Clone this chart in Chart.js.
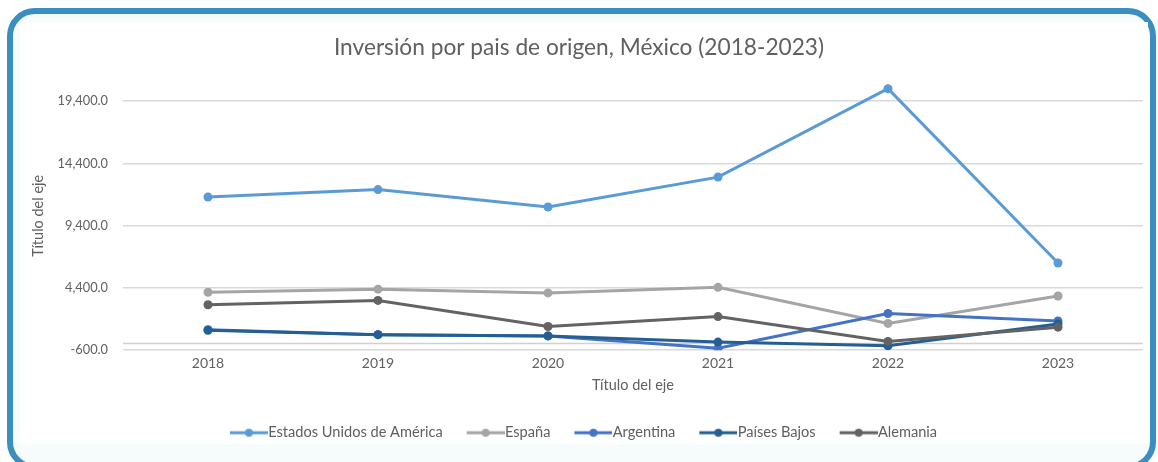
<!DOCTYPE html>
<html lang="es">
<head>
<meta charset="utf-8">
<title>Inversión por pais de origen, México (2018-2023)</title>
<script src="https://cdn.jsdelivr.net/npm/chart.js@4.4.1/dist/chart.umd.min.js"></script>
<style>
  html, body { margin: 0; padding: 0; background: #ffffff; }
  body { width: 1158px; height: 462px; position: relative; overflow: hidden; }
  .marco {
    position: absolute; left: 7px; top: 8px; width: 1149px; height: 462px;
    box-sizing: border-box; border: 6px solid #3b8ec0; border-radius: 28px;
    background: #f6fbfc;
  }
  .fondo {
    position: absolute; left: 20px; top: 22px; width: 1128px; height: 422px;
    background: #ffffff;
  }
  #chart { position: absolute; left: 0; top: 0; }
</style>
</head>
<body>
<div class="marco"></div>
<div class="fondo"></div>
<canvas id="chart" width="1158" height="462"></canvas>
<script>
// años en el eje X
const anios = ['2018', '2019', '2020', '2021', '2022', '2023']

// inversión por país (valores del eje Y)
const estadosUnidos = [11700, 12300, 10900, 13300, 20400, 6400]
const espana = [4050, 4300, 4000, 4450, 1550, 3750]
const argentina = [1050, 650, 550, -450, 2350, 1750]
const paisesBajos = [1000, 650, 550, 50, -250, 1500]
const alemania = [3050, 3400, 1300, 2100, 100, 1250]

// marcas del eje Y
const marcasY = [-600, 4400, 9400, 14400, 19400]

const nombres = ['Estados Unidos de América', 'España', 'Argentina', 'Países Bajos', 'Alemania']
const colores = ['#5b9bd5', '#a5a5a5', '#4472c4', '#255e91', '#636363']
const series = [estadosUnidos, espana, argentina, paisesBajos, alemania]

const fuente = 'Lato, "Open Sans", sans-serif'
const gris = '#606060'

// icono de la leyenda: línea con punto al centro, pegada al texto
function iconoLeyenda (color) {
  let c = document.createElement('canvas')
  c.width = 54
  c.height = 10
  let ctx = c.getContext('2d')
  ctx.strokeStyle = color
  ctx.lineWidth = 3
  ctx.beginPath()
  ctx.moveTo(16, 5)
  ctx.lineTo(54, 5)
  ctx.stroke()
  ctx.fillStyle = color
  ctx.beginPath()
  ctx.arc(35, 5, 4, 0, Math.PI * 2)
  ctx.fill()
  return c
}

// línea del eje horizontal en el valor 0
const lineaCero = {
  id: 'lineaCero',
  beforeDatasetsDraw (chart) {
    let { ctx, chartArea, scales } = chart
    let y = Math.round(scales.y.getPixelForValue(0)) + 0.5
    ctx.save()
    ctx.strokeStyle = '#d0d0d0'
    ctx.lineWidth = 1.5
    ctx.beginPath()
    ctx.moveTo(chartArea.left, y)
    ctx.lineTo(chartArea.right, y)
    ctx.stroke()
    ctx.restore()
  }
}

let grafico = new Chart('chart', {
  type: 'line',
  data: {
    labels: anios,
    datasets: series.map((datos, i) => ({
      label: nombres[i],
      data: datos,
      borderColor: colores[i],
      backgroundColor: colores[i],
      borderWidth: 3,
      pointRadius: 4.5,
      pointHoverRadius: 4.5,
      pointBorderWidth: 0,
      tension: 0,
      order: series.length - i
    }))
  },
  options: {
    responsive: false,
    animation: false,
    layout: { padding: { top: 34, left: 15, right: 15, bottom: 12 } },
    plugins: {
      title: {
        display: true,
        text: 'Inversión por pais de origen, México (2018-2023)',
        color: gris,
        font: { family: fuente, size: 22.7, weight: 'normal' },
        padding: { top: 0, bottom: 20 }
      },
      legend: {
        position: 'bottom',
        labels: {
          usePointStyle: true,
          pointStyleWidth: 40,
          color: gris,
          font: { family: fuente, size: 14.6 },
          padding: 15,
          generateLabels: chart => chart.data.datasets.map((ds, i) => ({
            text: ds.label,
            pointStyle: iconoLeyenda(colores[i]),
            fontColor: gris,
            datasetIndex: i,
            hidden: false,
            lineWidth: 0
          }))
        }
      },
      tooltip: { enabled: false }
    },
    scales: {
      x: {
        offset: true,
        grid: { display: false, drawTicks: false },
        border: { display: false },
        ticks: { color: gris, font: { family: fuente, size: 14 }, padding: 5 },
        title: {
          display: true,
          text: 'Título del eje',
          color: gris,
          font: { family: fuente, size: 14.5 },
          padding: { top: 0, bottom: 16 }
        }
      },
      y: {
        min: -600,
        max: 21000,
        afterBuildTicks: scale => { scale.ticks = marcasY.map(v => ({ value: v })) },
        afterFit: scale => { scale.width = 108 },
        grid: { color: '#d9d9d9', lineWidth: 1.5, drawTicks: false },
        border: { display: false },
        ticks: {
          color: gris,
          font: { family: fuente, size: 12.8 },
          padding: 15,
          callback: v => v.toLocaleString('en-US', { minimumFractionDigits: 1, maximumFractionDigits: 1 })
        },
        title: {
          display: true,
          text: 'Título del eje',
          color: gris,
          font: { family: fuente, size: 14.5 },
          padding: { top: 15, bottom: 0 }
        }
      }
    }
  },
  plugins: [lineaCero]
})
</script>
</body>
</html>
